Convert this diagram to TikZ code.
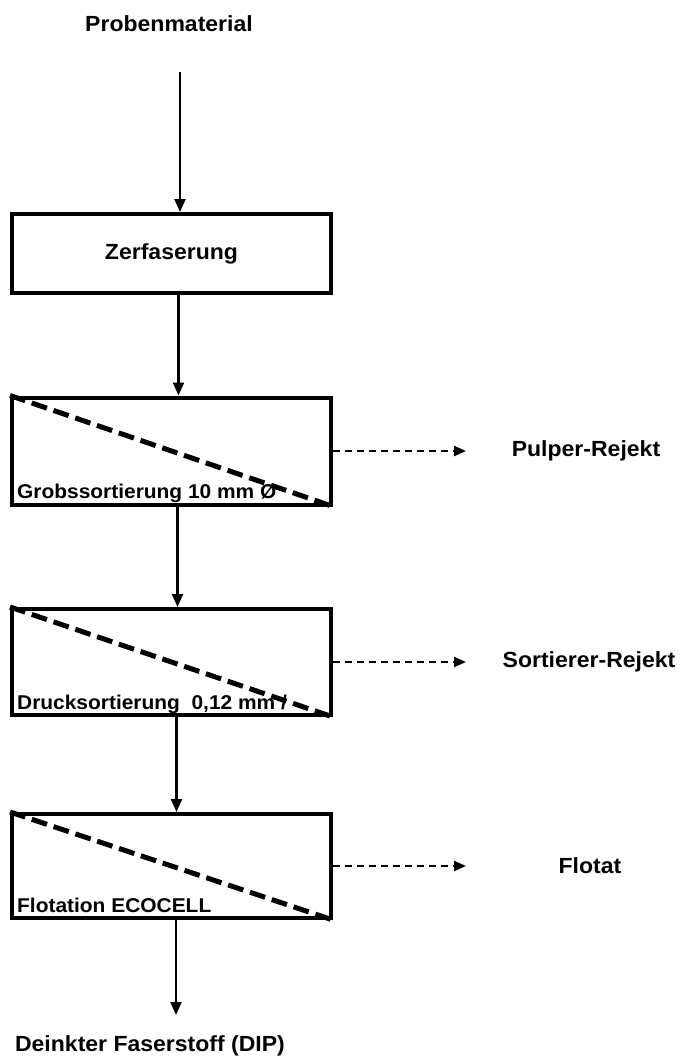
\documentclass[tikz,border=0pt]{standalone}
\usepackage{fontspec}
\setmainfont{Liberation Sans}[FakeStretch=1.05]
\usetikzlibrary{arrows.meta}

\begin{document}
\begin{tikzpicture}[
  x=1bp, y=-1bp,
  boxStyle/.style={draw, line width=4bp, minimum width=319bp, inner sep=0pt},
  labelStyle/.style={font=\fontsize{22}{26}\selectfont\bfseries},
  boxLabel/.style={font=\fontsize{20}{24}\selectfont\bfseries, anchor=base west, inner sep=0pt},
  flowArrow/.style={line width=2.2bp, -{Triangle[length=13bp, width=11bp]}},
  rejectArrow/.style={line width=2.2bp, dash pattern=on 7bp off 5bp, -{Triangle[length=12bp, width=10bp]}},
  diagLine/.style={line width=5bp, dash pattern=on 16bp off 7bp}]

\useasboundingbox (0,0) rectangle (683,1062);

\node [labelStyle] (probe) at (169,24) {Probenmaterial};

\node [boxStyle, labelStyle, minimum height=79bp] (zerf) at (171.5,253.5) {Zerfaserung};
\node [boxStyle, minimum height=107bp] (grob) at (171.5,451) {};
\node [boxStyle, minimum height=106bp] (druck) at (171.5,662) {};
\node [boxStyle, minimum height=104bp] (flot) at (171.5,866) {};

% sieve / cell boxes
\draw [diagLine] (grob.north west) -- (grob.south east);
\draw [diagLine] (druck.north west) -- (druck.south east);
\draw [diagLine] (flot.north west) -- (flot.south east);

\node [boxLabel] (grobText) at ([xshift=7bp, yshift=8bp]grob.south west) {Grobssortierung 10 mm Ø};
\node [boxLabel] (druckText) at ([xshift=7bp, yshift=8bp]druck.south west) {Drucksortierung\ \ 0,12 mm /};
\node [boxLabel] (flotText) at ([xshift=7bp, yshift=8bp]flot.south west) {Flotation ECOCELL};

% main flow
\coordinate (feedTop) at (180,72);
\draw [flowArrow] (feedTop) -- (feedTop |- zerf.north);
\draw [flowArrow] ([xshift=7bp]zerf.south) -- ([xshift=7bp]grob.north);
\draw [flowArrow] ([xshift=6bp]grob.south) -- ([xshift=6bp]druck.north);
\draw [flowArrow] ([xshift=5bp]druck.south) -- ([xshift=5bp]flot.north);
\coordinate (dipTip) at (176,1015);
\draw [flowArrow] (flot.south -| dipTip) -- (dipTip);
\node [labelStyle] (dip) at (150,1046) {Deinkter Faserstoff (DIP)};

% rejects
\coordinate (pulpTip) at ([xshift=133bp]grob.east);
\coordinate (sortTip) at ([xshift=133bp]druck.east);
\coordinate (flotTip) at ([xshift=133bp]flot.east);
\draw [rejectArrow] (grob.east) -- (pulpTip);
\draw [rejectArrow] (druck.east) -- (sortTip);
\draw [rejectArrow] (flot.east) -- (flotTip);
\node [labelStyle] (pulpRej) at (586,451) {Pulper-Rejekt};
\node [labelStyle] (sortRej) at (589,662) {Sortierer-Rejekt};
\node [labelStyle] (flotat) at (590,866) {Flotat};
\end{tikzpicture}
\end{document}
